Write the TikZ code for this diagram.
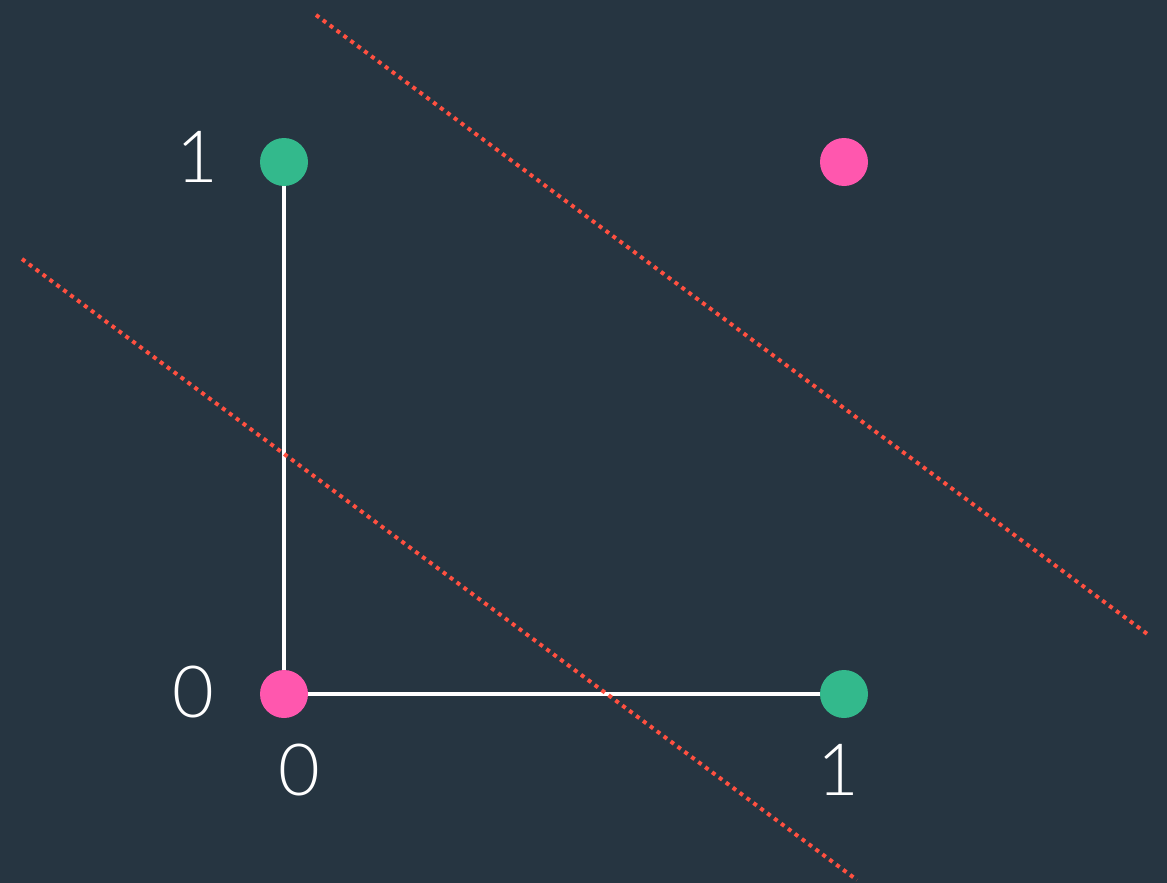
\documentclass[tikz,border=0pt]{standalone}
\usepackage{fontspec}
\setmainfont{Lato}[UprightFont={* Light}]
\usepackage{tikz}
\usetikzlibrary{backgrounds}
\definecolor{bgslate}{HTML}{263541}
\definecolor{dotgreen}{HTML}{33B98C}
\definecolor{dotpink}{HTML}{FF57AE}
\definecolor{sepred}{HTML}{FF5040}

\begin{document}
\begin{tikzpicture}[x=1pt, y=-1pt,
    dot/.style={circle, minimum size=48pt, inner sep=0pt},
    axis/.style={draw=white, line width=4.4pt},
    sep/.style={draw=sepred, line width=4pt, dash pattern=on 4pt off 4.6pt},
    lbl/.style={text=white, font=\fontsize{72}{80}\selectfont, inner sep=0pt}]
\useasboundingbox (0,0) rectangle (1167,883);
% XOR points
\node[dot, fill=dotpink]  (p00) at (284,694) {};
\node[dot, fill=dotgreen] (p01) at (284,162) {};
\node[dot, fill=dotgreen] (p10) at (844,694) {};
\node[dot, fill=dotpink]  (p11) at (844,162) {};
\begin{scope}[on background layer]
  \fill[bgslate] (0,0) rectangle (1167,883);
  \draw[axis] (p01.center) -- (p00.center) -- (p10.center);
\end{scope}
% tick labels
\node[lbl] (y1) at (197,157) {1};
\node[lbl] (y0) at (193,692) {0};
\node[lbl] (x0) at (299,770) {0};
\node[lbl] (x1) at (838,770) {1};
% separating lines
\coordinate (a1) at (316,15);
\coordinate (a2) at (1150,636);
\coordinate (b1) at (22,259);
\coordinate (b2) at (857,880);
\draw[sep] (a1) -- (a2);
\draw[sep] (b1) -- (b2);
\end{tikzpicture}
\end{document}
